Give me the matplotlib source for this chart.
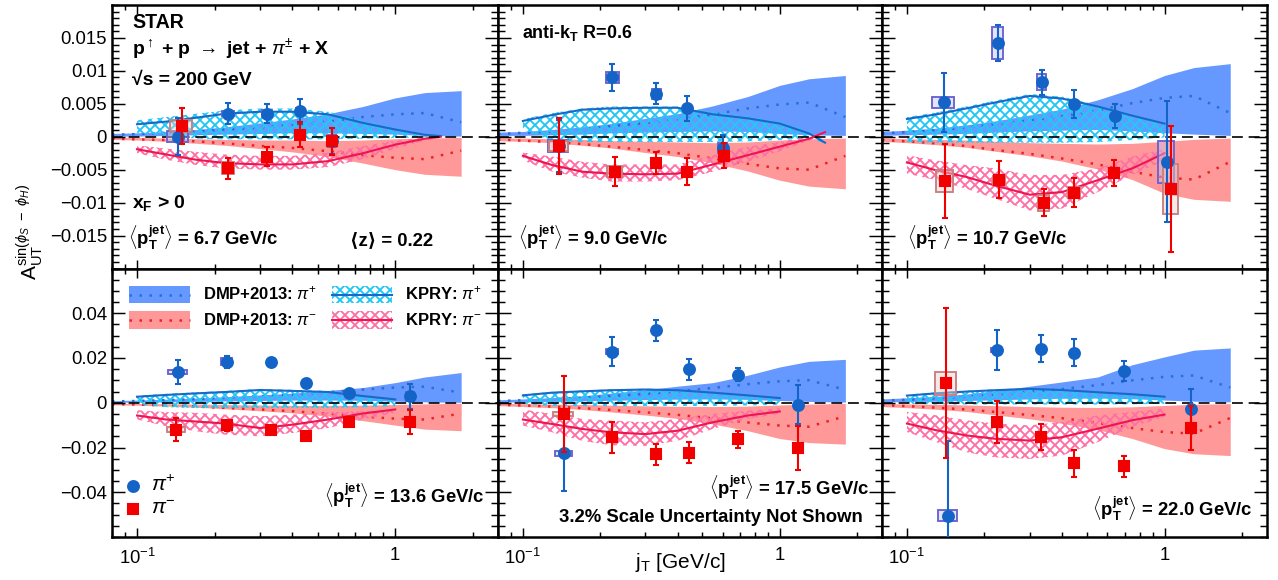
import numpy as np
import matplotlib.pyplot as plt
from matplotlib.patches import Rectangle
from matplotlib.ticker import FixedLocator, LogLocator, NullFormatter, MultipleLocator

plt.rcParams.update({
    "font.family": ["Liberation Sans", "DejaVu Sans"],
    "mathtext.fontset": "custom",
    "mathtext.rm": "Liberation Sans",
    "mathtext.it": "Liberation Sans:italic",
    "mathtext.bf": "Liberation Sans:bold",
    "mathtext.sf": "Liberation Sans",
    "hatch.linewidth": 0.9,
    "axes.linewidth": 1.2,
})

W, H = 1278, 580

# ---------------- data ----------------
jt_dmp = [0.08, 0.1, 0.13, 0.17, 0.22, 0.3, 0.4, 0.55, 0.75, 1.0, 1.3, 1.8]
jt_kpry = [0.1, 0.13, 0.17, 0.22, 0.3, 0.4, 0.55, 0.75, 1.0, 1.3, 1.5]

pt_labels = ["6.7", "9.0", "10.7", "13.6", "17.5", "22.0"]

# DMP+2013 (band + dotted central curve), one list per panel
dmp_pip_mid = [
    [0.0003, 0.0004, 0.0006, 0.0008, 0.0011, 0.0014, 0.0018, 0.0023, 0.0030, 0.0034, 0.0036, 0.0022],
    [0.0004, 0.0006, 0.0008, 0.0011, 0.0016, 0.0021, 0.0026, 0.0034, 0.0043, 0.0049, 0.0052, 0.0030],
    [0.0005, 0.0007, 0.0010, 0.0014, 0.0019, 0.0025, 0.0031, 0.0040, 0.0051, 0.0059, 0.0062, 0.0036],
    [0.0006, 0.0008, 0.0012, 0.0016, 0.0022, 0.0029, 0.0036, 0.0047, 0.0059, 0.0068, 0.0072, 0.0045],
    [0.0008, 0.0011, 0.0016, 0.0022, 0.0030, 0.0040, 0.0051, 0.0066, 0.0083, 0.0096, 0.0101, 0.0058],
    [0.0010, 0.0013, 0.0020, 0.0027, 0.0037, 0.0049, 0.0061, 0.0079, 0.0100, 0.0116, 0.0122, 0.0068],
]
dmp_pip_hi = [
    [0.0005, 0.0006, 0.0008, 0.0011, 0.0015, 0.0021, 0.0027, 0.0035, 0.0046, 0.0059, 0.0067, 0.0070],
    [0.0007, 0.0008, 0.0011, 0.0015, 0.0020, 0.0028, 0.0035, 0.0047, 0.0061, 0.0078, 0.0088, 0.0093],
    [0.0008, 0.0010, 0.0013, 0.0018, 0.0024, 0.0033, 0.0042, 0.0056, 0.0073, 0.0093, 0.0105, 0.0111],
    [0.0009, 0.0012, 0.0016, 0.0021, 0.0027, 0.0035, 0.0043, 0.0055, 0.0068, 0.0090, 0.0115, 0.0135],
    [0.0013, 0.0017, 0.0023, 0.0031, 0.0043, 0.0058, 0.0074, 0.0090, 0.0123, 0.0160, 0.0185, 0.0194],
    [0.0017, 0.0022, 0.0029, 0.0039, 0.0054, 0.0074, 0.0093, 0.0115, 0.0170, 0.0205, 0.0235, 0.0245],
]
dmp_pip_lo = [
    [0.0001, 0.0001, 0.0002, 0.0003, 0.0004, 0.0005, 0.0006, 0.0006, 0.0005, 0.0004, 0.0002, 0.0001],
    [0.0002, 0.0002, 0.0003, 0.0004, 0.0006, 0.0007, 0.0008, 0.0009, 0.0008, 0.0005, 0.0003, 0.0002],
    [0.0002, 0.0003, 0.0004, 0.0005, 0.0007, 0.0009, 0.0010, 0.0011, 0.0009, 0.0006, 0.0004, 0.0002],
    [0.0002, 0.0003, 0.0004, 0.0006, 0.0008, 0.0010, 0.0012, 0.0012, 0.0011, 0.0007, 0.0004, 0.0002],
    [0.0003, 0.0004, 0.0006, 0.0008, 0.0011, 0.0014, 0.0016, 0.0017, 0.0015, 0.0010, 0.0006, 0.0003],
    [0.0004, 0.0005, 0.0007, 0.0010, 0.0013, 0.0017, 0.0020, 0.0021, 0.0018, 0.0012, 0.0007, 0.0004],
]
dmp_pim_mid = [
    [-0.0003, -0.0004, -0.0005, -0.0007, -0.0010, -0.0014, -0.0017, -0.0022, -0.0028, -0.0032, -0.0034, -0.0021],
    [-0.0004, -0.0006, -0.0008, -0.0011, -0.0015, -0.0020, -0.0025, -0.0033, -0.0041, -0.0048, -0.0050, -0.0029],
    [-0.0005, -0.0007, -0.0010, -0.0014, -0.0020, -0.0026, -0.0033, -0.0042, -0.0053, -0.0062, -0.0065, -0.0038],
    [-0.0006, -0.0008, -0.0012, -0.0017, -0.0023, -0.0030, -0.0038, -0.0049, -0.0062, -0.0071, -0.0075, -0.0048],
    [-0.0009, -0.0012, -0.0017, -0.0024, -0.0032, -0.0043, -0.0054, -0.0070, -0.0088, -0.0102, -0.0107, -0.0060],
    [-0.0011, -0.0015, -0.0022, -0.0030, -0.0041, -0.0055, -0.0069, -0.0090, -0.0113, -0.0131, -0.0138, -0.0068],
]
dmp_pim_lo = [
    [-0.0004, -0.0005, -0.0007, -0.0010, -0.0013, -0.0018, -0.0023, -0.0030, -0.0040, -0.0050, -0.0057, -0.0060],
    [-0.0006, -0.0007, -0.0009, -0.0013, -0.0017, -0.0024, -0.0030, -0.0040, -0.0052, -0.0066, -0.0075, -0.0079],
    [-0.0007, -0.0009, -0.0012, -0.0016, -0.0022, -0.0029, -0.0037, -0.0049, -0.0065, -0.0086, -0.0095, -0.0098],
    [-0.0009, -0.0011, -0.0015, -0.0020, -0.0027, -0.0036, -0.0045, -0.0060, -0.0080, -0.0100, -0.0118, -0.0125],
    [-0.0013, -0.0017, -0.0022, -0.0030, -0.0041, -0.0055, -0.0070, -0.0095, -0.0125, -0.0160, -0.0178, -0.0185],
    [-0.0017, -0.0022, -0.0029, -0.0039, -0.0054, -0.0072, -0.0092, -0.0120, -0.0160, -0.0205, -0.0228, -0.0236],
]
dmp_pim_hi = [
    [-0.0001, -0.0001, -0.0002, -0.0003, -0.0004, -0.0005, -0.0005, -0.0006, -0.0005, -0.0003, -0.0002, -0.0001],
    [-0.0002, -0.0002, -0.0003, -0.0004, -0.0006, -0.0007, -0.0008, -0.0009, -0.0008, -0.0005, -0.0003, -0.0002],
    [-0.0002, -0.0003, -0.0004, -0.0005, -0.0007, -0.0009, -0.0010, -0.0011, -0.0010, -0.0007, -0.0004, -0.0002],
    [-0.0002, -0.0003, -0.0004, -0.0006, -0.0008, -0.0010, -0.0012, -0.0012, -0.0011, -0.0008, -0.0005, -0.0002],
    [-0.0003, -0.0004, -0.0006, -0.0008, -0.0011, -0.0014, -0.0016, -0.0017, -0.0015, -0.0010, -0.0006, -0.0003],
    [-0.0004, -0.0005, -0.0007, -0.0010, -0.0013, -0.0017, -0.0020, -0.0021, -0.0018, -0.0012, -0.0007, -0.0004],
]

# KPRY (hatched band + solid curve); panels 1,2 run to 1.5, others to 1.0
kpry_pip_mid = [
    [0.0019, 0.0023, 0.0029, 0.0035, 0.0038, 0.0038, 0.0034, 0.0021, 0.0011, 0.0003, 0.0001],
    [0.0024, 0.0033, 0.0041, 0.0043, 0.0044, 0.0044, 0.0034, 0.0028, 0.0020, 0.0005, -0.0009],
    [0.0027, 0.0034, 0.0043, 0.0052, 0.0062, 0.0058, 0.0046, 0.0032, 0.0020],
    [0.0027, 0.0035, 0.0042, 0.0048, 0.0057, 0.0053, 0.0048, 0.0030, 0.0015],
    [0.0033, 0.0045, 0.0051, 0.0056, 0.0059, 0.0056, 0.0045, 0.0033, 0.0021],
    [0.0032, 0.0042, 0.0050, 0.0056, 0.0062, 0.0057, 0.0047, 0.0038, 0.0027],
]
kpry_pip_hi = [
    [0.0025, 0.0030, 0.0035, 0.0040, 0.0043, 0.0043, 0.0038, 0.0025, 0.0013, 0.0004, 0.0002],
    [0.0027, 0.0036, 0.0043, 0.0046, 0.0046, 0.0046, 0.0038, 0.0031, 0.0023, 0.0008, -0.0006],
    [0.0030, 0.0037, 0.0046, 0.0055, 0.0065, 0.0061, 0.0048, 0.0034, 0.0021],
    [0.0032, 0.0040, 0.0047, 0.0053, 0.0062, 0.0058, 0.0053, 0.0035, 0.0020],
    [0.0037, 0.0049, 0.0055, 0.0060, 0.0063, 0.0060, 0.0049, 0.0037, 0.0025],
    [0.0036, 0.0047, 0.0054, 0.0060, 0.0066, 0.0062, 0.0051, 0.0042, 0.0031],
]
kpry_pip_lo = [
    [0.0006, 0.0001, -0.0003, -0.0004, -0.0004, -0.0004, -0.0004, -0.0003, -0.0002, -0.0001, 0.0],
    [0.0010, -0.0006, -0.0008, -0.0008, -0.0008, -0.0008, -0.0008, -0.0007, -0.0005, -0.0003, -0.0010],
    [-0.0008, -0.0009, -0.0009, -0.0009, -0.0009, -0.0009, -0.0008, -0.0005, -0.0001],
    [-0.0008, -0.0020, -0.0023, -0.0023, -0.0023, -0.0023, -0.0023, -0.0020, -0.0015],
    [-0.0005, -0.0015, -0.0015, -0.0015, -0.0015, -0.0015, -0.0015, -0.0012, -0.0010],
    [-0.0005, -0.0008, -0.0008, -0.0008, -0.0008, -0.0008, -0.0008, -0.0007, -0.0005],
]
kpry_pim_mid = [
    [-0.0019, -0.0027, -0.0035, -0.0040, -0.0042, -0.0042, -0.0037, -0.0025, -0.0012, -0.0003, 0.0],
    [-0.0029, -0.0043, -0.0053, -0.0056, -0.0057, -0.0056, -0.0042, -0.0028, -0.0015, -0.0003, 0.0007],
    [-0.0039, -0.0051, -0.0061, -0.0074, -0.0088, -0.0084, -0.0066, -0.0048, -0.0025],
    [-0.0057, -0.0075, -0.0084, -0.0093, -0.0113, -0.0098, -0.0075, -0.0048, -0.0030],
    [-0.0075, -0.0095, -0.0117, -0.0132, -0.0140, -0.0125, -0.0087, -0.0057, -0.0039],
    [-0.0093, -0.0123, -0.0146, -0.0161, -0.0169, -0.0154, -0.0116, -0.0078, -0.0053],
]
kpry_pim_hi = [
    [-0.0013, -0.0018, -0.0023, -0.0027, -0.0029, -0.0029, -0.0024, -0.0014, -0.0006, -0.0001, 0.0],
    [-0.0024, -0.0030, -0.0038, -0.0042, -0.0042, -0.0042, -0.0028, -0.0015, -0.0008, 0.0, 0.0009],
    [-0.0028, -0.0036, -0.0043, -0.0048, -0.0058, -0.0058, -0.0048, -0.0030, -0.0018],
    [-0.0033, -0.0042, -0.0045, -0.0053, -0.0060, -0.0053, -0.0042, -0.0038, -0.0030],
    [-0.0030, -0.0050, -0.0072, -0.0080, -0.0087, -0.0072, -0.0050, -0.0035, -0.0024],
    [-0.0041, -0.0056, -0.0078, -0.0093, -0.0101, -0.0086, -0.0056, -0.0041, -0.0026],
]
kpry_pim_lo = [
    [-0.0025, -0.0035, -0.0043, -0.0048, -0.0050, -0.0050, -0.0046, -0.0034, -0.0018, -0.0006, -0.0001],
    [-0.0036, -0.0053, -0.0062, -0.0068, -0.0068, -0.0066, -0.0053, -0.0038, -0.0022, -0.0006, 0.0005],
    [-0.0056, -0.0066, -0.0079, -0.0094, -0.0112, -0.0109, -0.0084, -0.0058, -0.0036],
    [-0.0075, -0.0105, -0.0128, -0.0143, -0.0150, -0.0135, -0.0113, -0.0075, -0.0045],
    [-0.0102, -0.0132, -0.0170, -0.0190, -0.0193, -0.0170, -0.0117, -0.0072, -0.0050],
    [-0.0131, -0.0176, -0.0221, -0.0244, -0.0251, -0.0236, -0.0176, -0.0108, -0.0063],
]

# STAR data points: pi+
pip_x = [
    [0.144, 0.225, 0.319, 0.427, 0.570],
    [0.138, 0.223, 0.331, 0.436, 0.601],
    [0.139, 0.225, 0.334, 0.445, 0.641, 1.018],
    [0.144, 0.223, 0.331, 0.452, 0.665, 1.14],
    [0.144, 0.223, 0.331, 0.445, 0.685, 1.18],
    [0.144, 0.223, 0.331, 0.445, 0.695, 1.265],
]
pip_y = [
    [0.0000, 0.0035, 0.0035, 0.0039, -0.0006],
    [-0.0014, 0.0090, 0.0065, 0.0043, -0.0017],
    [0.0052, 0.0142, 0.0083, 0.0050, 0.0031, -0.0038],
    [0.0138, 0.0184, 0.0184, 0.0087, 0.0045, 0.0028],
    [-0.0226, 0.0229, 0.0324, 0.0150, 0.0126, -0.0008],
    [-0.0504, 0.0235, 0.0241, 0.0223, 0.0143, -0.0030],
]
pip_err = [
    [0.0028, 0.0016, 0.0014, 0.0019, 0.0020],
    [0.0040, 0.0021, 0.0016, 0.0019, 0.0019],
    [0.0045, 0.0027, 0.0019, 0.0021, 0.0018, 0.0092],
    [0.0052, 0.0027, 0.0010, 0.0010, 0.0010, 0.0055],
    [0.0167, 0.0064, 0.0047, 0.0047, 0.0030, 0.0087],
    [0.0335, 0.0089, 0.0060, 0.0060, 0.0044, 0.0093],
]
pip_sys = [
    [0.0008, 0.0004, 0.0005, 0.0004, 0.0009],
    [0.0009, 0.0008, 0.0008, 0.0003, 0.0008],
    [0.0008, 0.0024, 0.0012, 0.0, 0.0, 0.0032],
    [0.0010, 0.0017, 0.0, 0.0, 0.0, 0.0019],
    [0.0011, 0.0010, 0.0, 0.0, 0.0, 0.0],
    [0.0023, 0.0008, 0.0, 0.0, 0.0, 0.0],
]
pip_sys_jt = [
    [0.0135, 0.012, 0.013, 0.014, 0.020],
    [0.0123, 0.0127, 0.0135, 0.013, 0.0247],
    [0.0136, 0.011, 0.013, 0.013, 0.020, 0.073],
    [0.0122, 0.011, 0.012, 0.012, 0.020, 0.043],
    [0.011, 0.0117, 0.012, 0.012, 0.020, 0.043],
    [0.0125, 0.011, 0.012, 0.012, 0.020, 0.043],
]

# STAR data points: pi-
pim_x = [
    [0.149, 0.225, 0.319, 0.427, 0.570],
    [0.138, 0.228, 0.331, 0.436, 0.609],
    [0.140, 0.228, 0.339, 0.445, 0.636, 1.058],
    [0.142, 0.223, 0.331, 0.452, 0.665, 1.14],
    [0.144, 0.223, 0.331, 0.445, 0.685, 1.18],
    [0.142, 0.223, 0.331, 0.445, 0.695, 1.265],
]
pim_y = [
    [0.0016, -0.0048, -0.0030, 0.0003, -0.0007],
    [-0.0014, -0.0053, -0.0040, -0.0053, -0.0029],
    [-0.0067, -0.0065, -0.0100, -0.0085, -0.0055, -0.0079],
    [-0.0120, -0.0101, -0.0123, -0.0150, -0.0086, -0.0086],
    [-0.0050, -0.0155, -0.0230, -0.0223, -0.0163, -0.0203],
    [0.0087, -0.0086, -0.0154, -0.0271, -0.0284, -0.0113],
]
pim_err = [
    [0.0027, 0.0016, 0.0014, 0.0019, 0.0020],
    [0.0042, 0.0022, 0.0017, 0.0020, 0.0019],
    [0.0056, 0.0028, 0.0021, 0.0022, 0.0020, 0.0096],
    [0.0053, 0.0026, 0.0010, 0.0015, 0.0012, 0.0054],
    [0.0170, 0.0068, 0.0047, 0.0048, 0.0038, 0.0098],
    [0.0335, 0.0095, 0.0059, 0.0062, 0.0046, 0.0098],
]
pim_sys = [
    [0.0009, 0.0009, 0.0, 0.0, 0.0],
    [0.0008, 0.0008, 0.0006, 0.0, 0.0],
    [0.0017, 0.0006, 0.0012, 0.0008, 0.0, 0.0038],
    [0.0012, 0.0019, 0.0, 0.0, 0.0, 0.0019],
    [0.0009, 0.0, 0.0, 0.0, 0.0, 0.0],
    [0.0051, 0.0, 0.0, 0.0, 0.0, 0.0],
]
pim_sys_jt = [
    [0.0147, 0.012, 0.012, 0.014, 0.020],
    [0.0117, 0.0157, 0.013, 0.013, 0.020],
    [0.0104, 0.0114, 0.0155, 0.0236, 0.020, 0.067],
    [0.011, 0.0094, 0.012, 0.012, 0.020, 0.043],
    [0.013, 0.012, 0.012, 0.012, 0.020, 0.043],
    [0.0137, 0.012, 0.012, 0.012, 0.020, 0.043],
]

# ---------------- style ----------------
c_dmp_p, c_dmp_p_line = "#6699ff", "#2a6fd6"
c_dmp_m, c_dmp_m_line = "#ff9999", "#ee2222"
c_kp_p, c_kp_p_line = "#22c8f5", "#1a68c8"
c_kp_m, c_kp_m_line = "#ff6fa5", "#ee1650"
c_pip, c_pim = "#1464c8", "#f20000"
box_p_ec, box_p_fc = "#6a62d0", (0.75, 0.78, 0.95, 0.45)
box_m_ec, box_m_fc = "#c88080", (0.92, 0.80, 0.80, 0.45)
hatch = "xxxxx"

fig = plt.figure(figsize=(W / 150, H / 150), dpi=150)

col_edges = [112, 498, 882, 1267]
row_edges = [5, 268.5, 537]


def px2fig(x, y):
    return x / W, 1 - y / H


axes = []
for r in range(2):
    for c in range(3):
        l, rr = col_edges[c], col_edges[c + 1]
        t, b = row_edges[r], row_edges[r + 1]
        ax = fig.add_axes([l / W, 1 - b / H, (rr - l) / W, (b - t) / H])
        axes.append(ax)

dotted = (0, (1, 3))

for k, ax in enumerate(axes):
    top = k < 3
    ax.set_xscale("log")
    ax.set_xlim(0.08, 2.5)
    ax.set_ylim((-0.02, 0.02) if top else (-0.06, 0.06))

    # DMP bands
    ax.fill_between(jt_dmp, dmp_pip_lo[k], dmp_pip_hi[k], color=c_dmp_p, lw=0, zorder=1)
    ax.fill_between(jt_dmp, dmp_pim_lo[k], dmp_pim_hi[k], color=c_dmp_m, lw=0, zorder=1)
    ax.plot(jt_dmp, dmp_pip_mid[k], color=c_dmp_p_line, lw=1.2, ls=dotted, zorder=1.5)
    ax.plot(jt_dmp, dmp_pim_mid[k], color=c_dmp_m_line, lw=1.2, ls=dotted, zorder=1.5)

    # KPRY hatched bands
    n = len(kpry_pip_mid[k])
    xk = jt_kpry[:n]
    ax.fill_between(xk, kpry_pip_lo[k], kpry_pip_hi[k], facecolor="none",
                    edgecolor=c_kp_p, hatch=hatch, lw=0, zorder=2)
    ax.fill_between(xk, kpry_pim_lo[k], kpry_pim_hi[k], facecolor="none",
                    edgecolor=c_kp_m, hatch=hatch, lw=0, zorder=2)
    ax.plot(xk, kpry_pip_mid[k], color=c_kp_p_line, lw=1.0, zorder=2.5)
    ax.plot(xk, kpry_pim_mid[k], color=c_kp_m_line, lw=1.0, zorder=2.5)

    ax.axhline(0, color="k", lw=0.8, ls=(0, (6.5, 3.5)), zorder=3)

    # systematic boxes
    for xs, ys, sy, sx, ec, fc in [
        (pip_x[k], pip_y[k], pip_sys[k], pip_sys_jt[k], box_p_ec, box_p_fc),
        (pim_x[k], pim_y[k], pim_sys[k], pim_sys_jt[k], box_m_ec, box_m_fc),
    ]:
        for xi, yi, syi, sxi in zip(xs, ys, sy, sx):
            if syi > 0:
                ax.add_patch(Rectangle((xi - sxi, yi - syi), 2 * sxi, 2 * syi,
                                       ec=ec, fc=fc, lw=0.9, zorder=4))

    ax.errorbar(pip_x[k], pip_y[k], yerr=pip_err[k], fmt="o", ms=5.2, color=c_pip,
                elinewidth=1.0, capsize=1.5, capthick=1.0, zorder=5)
    ax.errorbar(pim_x[k], pim_y[k], yerr=pim_err[k], fmt="s", ms=5.0, color=c_pim,
                elinewidth=1.0, capsize=1.5, capthick=1.0, zorder=6)

    # axes / ticks
    ax.xaxis.set_major_locator(FixedLocator([0.1, 1.0]))
    ax.xaxis.set_minor_locator(LogLocator(base=10, subs=np.arange(2, 10)))
    ax.xaxis.set_minor_formatter(NullFormatter())
    if top:
        ax.yaxis.set_major_locator(FixedLocator([-0.015, -0.01, -0.005, 0, 0.005, 0.01, 0.015]))
        ax.yaxis.set_minor_locator(MultipleLocator(0.001))
        ylabs = ["\u22120.015", "\u22120.01", "\u22120.005", "0", "0.005", "0.01", "0.015"]
    else:
        ax.yaxis.set_major_locator(FixedLocator([-0.04, -0.02, 0, 0.02, 0.04]))
        ax.yaxis.set_minor_locator(MultipleLocator(0.005))
        ylabs = ["\u22120.04", "\u22120.02", "0", "0.02", "0.04"]
    ax.tick_params(which="both", direction="in", top=True, right=True, width=0.7,
                   labelsize=8.9)
    ax.tick_params(axis="y", which="major", length=6.2, pad=2.4)
    ax.tick_params(axis="y", which="minor", length=3.4)
    ax.tick_params(axis="x", which="major", length=4.5, pad=5.0)
    ax.tick_params(axis="x", which="minor", length=2.6)
    if k in (0, 3):
        ax.set_yticklabels(ylabs)
    else:
        ax.set_yticklabels([])
    if top:
        ax.set_xticklabels([])
    else:
        ax.set_xticklabels([r"$10^{-1}$", "1"])


def ftext(x, y, s, **kw):
    fx, fy = px2fig(x, y)
    kw.setdefault("fontweight", "bold")
    kw.setdefault("fontsize", 8.9)
    kw.setdefault("va", "baseline")
    fig.text(fx, fy, s, **kw)


pt_math = r"$\langle\mathbf{p}_{\mathbf{T}}^{\mathbf{jet}}\rangle$"

ftext(132, 28, "STAR", fontsize=9.4)
ftext(132, 55, r"p$^{\uparrow}$ + p $\rightarrow$ jet + $\pi^{\pm}$ + X", fontsize=9.3)
ftext(132, 85, "\u221as = 200 GeV", fontsize=9.3)
ftext(132, 208, r"$\mathbf{x_{F}}$ > 0", fontsize=9.3)
ftext(128, 245, pt_math + " = " + pt_labels[0] + " GeV/c")
ftext(350, 245, "\u27e8z\u27e9 = 0.22")
ftext(522, 38, r"anti-$\mathbf{k_{T}}$ R=0.6", fontsize=8.6)
ftext(518, 245, pt_math + " = " + pt_labels[1] + " GeV/c")
ftext(907, 245, pt_math + " = " + pt_labels[2] + " GeV/c")
ftext(485, 503, pt_math + " = " + pt_labels[3] + " GeV/c", ha="right")
ftext(870, 495, pt_math + " = " + pt_labels[4] + " GeV/c", ha="right")
ftext(863, 522, "3.2% Scale Uncertainty Not Shown", ha="right")
ftext(1253, 516, pt_math + " = " + pt_labels[5] + " GeV/c", ha="right")

# legend (bottom-left panel)
leg_ax = axes[3]


def afrac(x, y):
    return (x - 112) / 386, (537 - y) / 268.5


def swatch(x0, x1, y0, y1, **kw):
    ax0, ay1 = afrac(x0, y0)
    ax1, ay0 = afrac(x1, y1)
    leg_ax.add_patch(Rectangle((ax0, ay0), ax1 - ax0, ay1 - ay0,
                               transform=leg_ax.transAxes, clip_on=False, **kw))


def legline(x0, x1, y, **kw):
    a0, ay = afrac(x0, y)
    a1, _ = afrac(x1, y)
    leg_ax.plot([a0, a1], [ay, ay], transform=leg_ax.transAxes, clip_on=False, **kw)


swatch(129, 190, 286, 303, color=c_dmp_p, lw=0, zorder=7)
legline(129, 190, 294.5, color=c_dmp_p_line, lw=1.2, ls=dotted, zorder=8)
swatch(129, 190, 311, 329, color=c_dmp_m, lw=0, zorder=7)
legline(129, 190, 320, color=c_dmp_m_line, lw=1.2, ls=dotted, zorder=8)
swatch(332, 392, 286, 303, facecolor="none", edgecolor=c_kp_p, hatch=hatch, lw=0, zorder=7)
legline(332, 392, 294.5, color=c_kp_p_line, lw=1.0, zorder=8)
swatch(332, 392, 311, 329, facecolor="none", edgecolor=c_kp_m, hatch=hatch, lw=0, zorder=7)
legline(332, 392, 320, color=c_kp_m_line, lw=1.0, zorder=8)

ftext(203, 299, r"DMP+2013: $\pi^{+}$", fontsize=8.0)
ftext(203, 325, r"DMP+2013: $\pi^{-}$", fontsize=8.0)
ftext(405, 299, r"KPRY: $\pi^{+}$", fontsize=8.0)
ftext(405, 325, r"KPRY: $\pi^{-}$", fontsize=8.0)

mx, my = afrac(133, 486)
leg_ax.plot([mx], [my], "o", ms=5.2, color=c_pip, transform=leg_ax.transAxes, clip_on=False)
mx, my = afrac(133, 509)
leg_ax.plot([mx], [my], "s", ms=5.0, color=c_pim, transform=leg_ax.transAxes, clip_on=False)
ftext(151, 491, r"$\pi^{+}$", fontweight="normal", fontsize=10)
ftext(151, 514, r"$\pi^{-}$", fontweight="normal", fontsize=10)

# axis titles
fx, fy = px2fig(30, 232)
fig.text(fx, fy, r"$\mathrm{A}_{\mathrm{UT}}^{\mathrm{sin}(\phi_{S}\ -\ \phi_{H})}$", rotation=90,
         ha="center", va="center", fontsize=10)
fx, fy = px2fig(680, 562)
fig.text(fx, fy, r"$\mathrm{j_{T}}$ [GeV/c]", ha="center", va="center", fontsize=10)

fig.savefig("out.png", dpi=150)
